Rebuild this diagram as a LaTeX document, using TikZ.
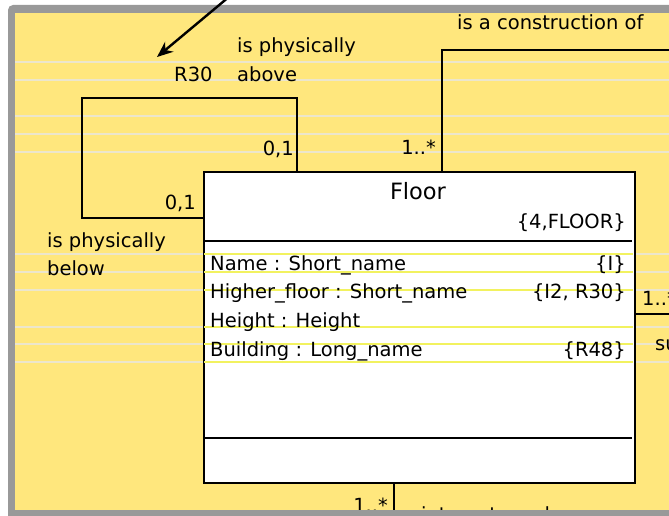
\documentclass[tikz,border=0pt]{standalone}
\usepackage{fontspec}
\setmainfont{DejaVu Sans}
\usetikzlibrary{arrows.meta}
\definecolor{paper}{RGB}{255,231,125}
\definecolor{framegray}{RGB}{153,153,153}
\definecolor{rulepale}{RGB}{236,230,205}
\definecolor{ruleyellow}{RGB}{242,242,95}
\begin{document}
\begin{tikzpicture}[x=1pt,y=-1pt,
  lbl/.style={inner sep=0pt, font=\fontsize{19.5}{22}\selectfont},
  title/.style={inner sep=0pt, font=\fontsize{22.5}{25}\selectfont},
  conn/.style={line width=1.4pt, black},
  classbox/.style={draw, line width=1.5pt, fill=white, inner sep=0pt,
    minimum width=431pt, minimum height=311pt, anchor=north west},
  paleline/.style={rulepale, line width=1.5pt},
  boxline/.style={ruleyellow, line width=1.5pt},
  pointer/.style={line width=2.4pt, -{Stealth[length=16pt, width=13pt]}}
]
\useasboundingbox (0,0) rectangle (669,516);
% window frame and paper
\fill[white] (0,0) rectangle (669,516);
\fill[framegray, rounded corners=5pt] (8,5) rectangle (690,530);
\fill[paper] (15,13) rectangle (669,510);

% ruled lines across the paper
\foreach \y in {62,80,116,134,152,254,272,290,327,344,362}
  \draw[paleline] (15,\y) -- (669,\y);

% fixed points of the connectors
\coordinate (loopTR) at (297,98);
\coordinate (loopTL) at (82,98);
\coordinate (loopBL) at (82,218);
\coordinate (consTop) at (442,50);
\coordinate (consEnd) at (675,50);
\coordinate (subEnd) at (675,314);
\coordinate (interEnd) at (394,516);

% class box
\node[classbox] (floor) at (203,171) {};
\coordinate (sepA) at (203,241);
\coordinate (sepB) at (203,438);

% connectors
\draw[conn] (floor.north -| loopTR) -- (loopTR) -- (loopTL) -- (loopBL) -- (loopBL -| floor.west);
\draw[conn] (floor.north -| consTop) -- (consTop) -- (consEnd);
\draw[conn] (floor.east |- subEnd) -- (subEnd);
\draw[conn] (floor.south -| interEnd) -- (interEnd);

% ruled lines inside the box and the compartment separators
\foreach \y in {254,272,290,327,344,362}
  \draw[boxline] (204,\y) -- (633,\y);
\draw[line width=1.4pt] (sepA) -- (632,241);
\draw[line width=1.4pt] (sepB) -- (632,438);

% class header
\node[title, anchor=base] (fname) at (418,199) {Floor};
\node[lbl, anchor=base east] (fkey) at (626,228) {\{4,FLOOR\}};

% attributes
\node[lbl, anchor=base west] (a1) at (210,270) {Name : Short\_name};
\node[lbl, anchor=base east] (k1) at (626,270) {\{I\}};
\node[lbl, anchor=base west] (a2) at (210,298) {Higher\_floor : Short\_name};
\node[lbl, anchor=base east] (k2) at (626,298) {\{I2, R30\}};
\node[lbl, anchor=base west] (a3) at (210,327) {Height : Height};
\node[lbl, anchor=base west] (a4) at (210,356) {Building : Long\_name};
\node[lbl, anchor=base east] (k4) at (626,356) {\{R48\}};

% association labels
\node[lbl, anchor=base west] (up1) at (237,53) {is physically};
\node[lbl, anchor=base west] (up2) at (237,82) {above};
\node[lbl, anchor=base west] (rnum) at (174,82) {R30};
\node[lbl, anchor=base east] (m1) at (294,155) {0,1};
\node[lbl, anchor=base east] (m2) at (196,209) {0,1};
\node[lbl, anchor=base west] (dn1) at (47,247) {is physically};
\node[lbl, anchor=base west] (dn2) at (47,275) {below};
\node[lbl, anchor=base west] (cons) at (457,30) {is a construction of};
\node[lbl, anchor=base east] (m3) at (436,154) {1..*};
\node[lbl, anchor=base west] (m4) at (642,305) {1..*};
\node[lbl, anchor=base west] (sub) at (655,350) {su};
\node[lbl, anchor=base east] (m5) at (388,512) {1..*};
\node[lbl, anchor=base west] (inter) at (421,521) {interacts and};

% bottom edge of the frame over the clipped labels
\fill[framegray] (8,510) rectangle (669,520);

% pointer arrow
\coordinate (ptrStart) at (230,-4);
\coordinate (ptrEnd) at (157,57);
\draw[pointer] (ptrStart) -- (ptrEnd);
\end{tikzpicture}
\end{document}
